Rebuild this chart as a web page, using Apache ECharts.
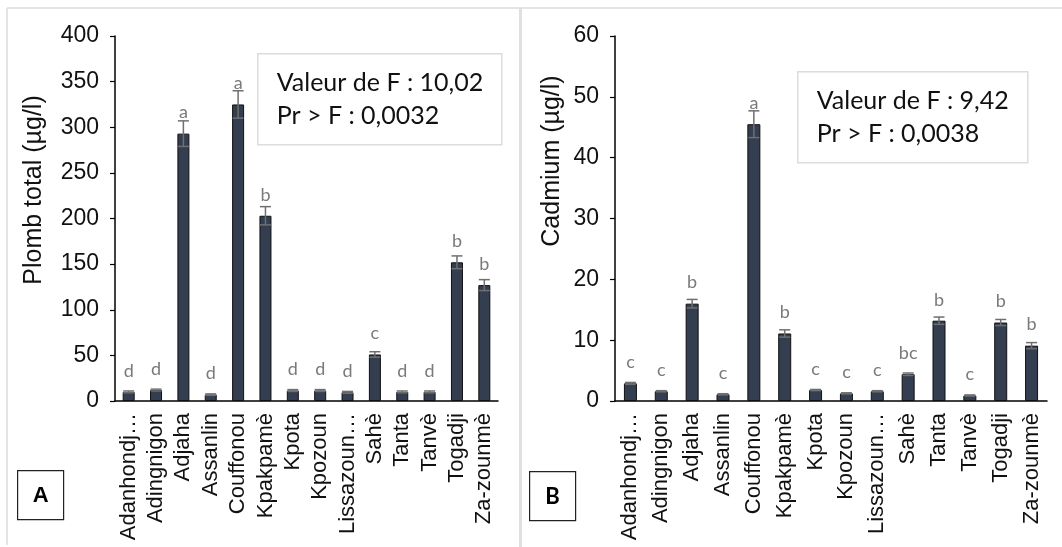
<!DOCTYPE html>
<html>
<head>
<meta charset="utf-8">
<script src="https://cdn.jsdelivr.net/npm/echarts@6/dist/echarts.min.js"></script>
<style>
  html, body { margin: 0; padding: 0; background: #fff; }
  #chart { width: 1062px; height: 547px; }
</style>
</head>
<body>
<div id="chart"></div>
<script>
// Sites sampled
const sites = ['Adanhondjigon', 'Adingnigon', 'Adjaha', 'Assanlin', 'Couffonou', 'Kpakpamè', 'Kpota',
  'Kpozoun', 'Lissazounmè', 'Sahè', 'Tanta', 'Tanvè', 'Togadji', 'Za-zounmè'];
// Tick labels as printed under each bar (long names shortened)
const siteTicks = ['Adanhondj…', 'Adingnigon', 'Adjaha', 'Assanlin', 'Couffonou', 'Kpakpamè', 'Kpota',
  'Kpozoun', 'Lissazoun…', 'Sahè', 'Tanta', 'Tanvè', 'Togadji', 'Za-zounmè'];

// Panel A: total lead (µg/l), standard error, and group letters
const leadMean = [10, 12, 293, 7, 325, 203, 11.5, 11.5, 9.5, 51, 10, 10, 152, 127];
const leadErr = [1, 1, 14, 0.8, 15, 10, 1, 1, 1, 3, 1, 1, 7, 6];
const leadGroups = ['d', 'd', 'a', 'd', 'a', 'b', 'd', 'd', 'd', 'c', 'd', 'd', 'b', 'b'];

// Panel B: cadmium (µg/l), standard error, and group letters
const cadMean = [2.9, 1.6, 16.0, 1.1, 45.5, 11.1, 1.8, 1.25, 1.6, 4.4, 13.2, 0.9, 12.9, 9.1];
const cadErr = [0.15, 0.1, 0.7, 0.1, 2.2, 0.6, 0.1, 0.1, 0.1, 0.2, 0.6, 0.1, 0.5, 0.5];
const cadGroups = ['c', 'c', 'b', 'c', 'a', 'b', 'c', 'c', 'c', 'bc', 'b', 'c', 'b', 'b'];

// Axis ticks
const leadTicks = { min: 0, max: 400, interval: 50 };
const cadTicks = { min: 0, max: 60, interval: 10 };

// ANOVA annotations
const leadStats = ['Valeur de F : 10,02', 'Pr > F : 0,0032'];
const cadStats = ['Valeur de F : 9,42', 'Pr > F : 0,0038'];

const AXIS_FONT = '"Liberation Sans", Arial, sans-serif';
const NOTE_FONT = 'Lato, "Open Sans", sans-serif';
const BAR_FILL = '#333e50';
const ERR_COLOR = '#6f6f6f';
const LETTER_COLOR = '#7a7a7a';

function errorSeries(axisIdx, means, errs) {
  return {
    type: 'custom',
    xAxisIndex: axisIdx,
    yAxisIndex: axisIdx,
    z: 5,
    silent: true,
    data: means.map((m, i) => [i, m, errs[i]]),
    renderItem: function (params, api) {
      const i = api.value(0), m = api.value(1), e = api.value(2);
      const hi = api.coord([i, m + e]);
      const lo = api.coord([i, m - e]);
      const half = 5.5;
      const style = { stroke: ERR_COLOR, lineWidth: 1.5 };
      return {
        type: 'group',
        children: [
          { type: 'line', shape: { x1: hi[0], y1: hi[1], x2: lo[0], y2: lo[1] }, style: style },
          { type: 'line', shape: { x1: hi[0] - half, y1: hi[1], x2: hi[0] + half, y2: hi[1] }, style: style },
          { type: 'line', shape: { x1: lo[0] - half, y1: lo[1], x2: lo[0] + half, y2: lo[1] }, style: style }
        ]
      };
    }
  };
}

function barSeries(axisIdx, means, groups, width) {
  return {
    type: 'bar',
    xAxisIndex: axisIdx,
    yAxisIndex: axisIdx,
    barWidth: width,
    data: means,
    itemStyle: { color: BAR_FILL, borderColor: '#111', borderWidth: 1 },
    label: {
      show: true,
      position: 'top',
      distance: 12,
      formatter: p => groups[p.dataIndex],
      fontFamily: NOTE_FONT,
      fontSize: 18,
      color: LETTER_COLOR
    }
  };
}

function yAxis(gridIdx, ticks) {
  return {
    type: 'value',
    gridIndex: gridIdx,
    min: ticks.min,
    max: ticks.max,
    interval: ticks.interval,
    splitLine: { show: false },
    axisLine: { show: true, lineStyle: { color: '#000', width: 1.5 } },
    axisTick: { show: true, length: 5, lineStyle: { color: '#000', width: 1.2 } },
    axisLabel: { margin: 16, fontFamily: AXIS_FONT, fontSize: 23, color: '#111' }
  };
}

function xAxis(gridIdx) {
  return {
    type: 'category',
    gridIndex: gridIdx,
    data: sites,
    boundaryGap: true,
    axisLine: { show: true, lineStyle: { color: '#000', width: 1.5 } },
    axisTick: { show: false },
    axisLabel: {
      rotate: 90,
      interval: 0,
      margin: 12,
      fontFamily: AXIS_FONT,
      fontSize: 22,
      color: '#111',
      formatter: (value, idx) => siteTicks[idx]
    }
  };
}

function statBox(x, y, w, h, lines) {
  return {
    type: 'group',
    left: x,
    top: y,
    children: [
      { type: 'rect', shape: { x: 0, y: 0, width: w, height: h }, style: { fill: '#fff', stroke: '#dcdcdc', lineWidth: 1.5 } },
      { type: 'text', x: 19, y: 29, style: { text: lines[0], font: '25px ' + NOTE_FONT, fill: '#111', verticalAlign: 'middle' } },
      { type: 'text', x: 19, y: 62, style: { text: lines[1], font: '25px ' + NOTE_FONT, fill: '#111', verticalAlign: 'middle' } }
    ]
  };
}

function panelTag(x, y, letter, font) {
  return {
    type: 'group',
    left: x,
    top: y,
    children: [
      { type: 'rect', shape: { x: 0, y: 0, width: 46, height: 49 }, style: { fill: '#fff', stroke: '#222', lineWidth: 1.2 } },
      { type: 'text', x: 23, y: 25, style: { text: letter, font: 'bold 22px ' + font, fill: '#000', align: 'center', verticalAlign: 'middle' } }
    ]
  };
}

function axisTitle(cx, cy, text) {
  return {
    type: 'text',
    x: cx,
    y: cy,
    rotation: Math.PI / 2,
    style: { text: text, font: '25px ' + AXIS_FONT, fill: '#111', align: 'center', verticalAlign: 'middle' }
  };
}

const chart = echarts.init(document.getElementById('chart'), null, { renderer: 'canvas' });

chart.setOption({
  backgroundColor: '#ffffff',
  animation: false,
  grid: [
    { left: 115, right: 564, top: 36, bottom: 146 },
    { left: 615, right: 15, top: 36, bottom: 146 }
  ],
  xAxis: [xAxis(0), xAxis(1)],
  yAxis: [yAxis(0, leadTicks), yAxis(1, cadTicks)],
  series: [
    barSeries(0, leadMean, leadGroups, 12),
    errorSeries(0, leadMean, leadErr),
    barSeries(1, cadMean, cadGroups, 13),
    errorSeries(1, cadMean, cadErr)
  ],
  graphic: [
    // panel frames
    { type: 'line', shape: { x1: 7, y1: 8, x2: 1062, y2: 8 }, style: { stroke: '#e4e4e4', lineWidth: 2 } },
    { type: 'line', shape: { x1: 7, y1: 8, x2: 7, y2: 545 }, style: { stroke: '#e4e4e4', lineWidth: 2 } },
    { type: 'line', shape: { x1: 520.5, y1: 8, x2: 520.5, y2: 547 }, style: { stroke: '#e0e0e0', lineWidth: 3 } },
    axisTitle(34, 190, 'Plomb total (µg/l)'),
    axisTitle(552, 161, 'Cadmium (µg/l)'),
    statBox(257, 53, 244, 91, leadStats),
    statBox(797, 71, 230, 91, cadStats),
    panelTag(17, 470, 'A', AXIS_FONT),
    panelTag(529, 471, 'B', NOTE_FONT)
  ]
});
</script>
</body>
</html>
